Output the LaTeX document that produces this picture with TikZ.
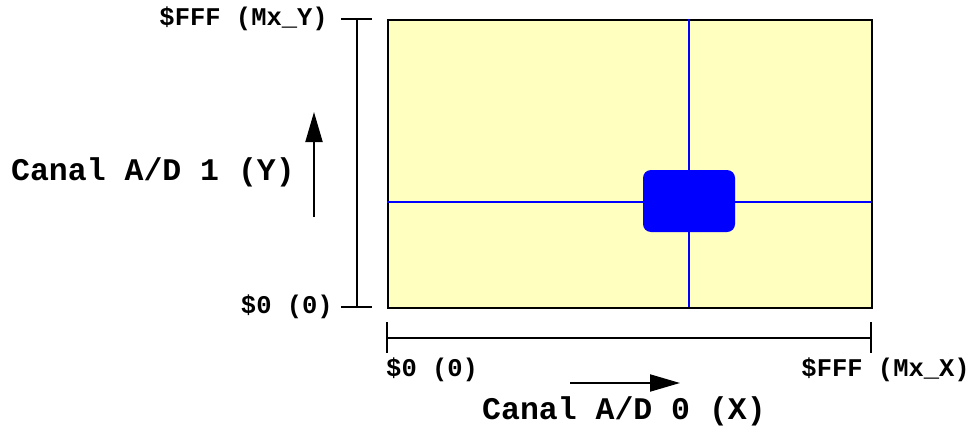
\documentclass[tikz,border=0pt]{standalone}
\usepackage{fontspec}
\setmonofont{Liberation Mono}
\usetikzlibrary{arrows.meta}
\definecolor{padyellow}{RGB}{255,255,192}
\definecolor{padblue}{RGB}{0,0,255}
\tikzset{
  small/.style={font=\ttfamily\bfseries\fontsize{25.5}{28}\selectfont, inner sep=0pt},
  big/.style={font=\ttfamily\bfseries\fontsize{31.5}{34}\selectfont, inner sep=0pt},
  scalebar/.style={line width=2pt, black},
  axisarrow/.style={line width=2pt, -{Triangle[length=30pt,width=17pt]}},
  crossline/.style={line width=1.5pt, padblue},
}
\begin{document}
\begin{tikzpicture}[x=1pt,y=-1pt]
\useasboundingbox (0,0) rectangle (971,428);
% pad area
\node[draw, line width=2pt, fill=padyellow, minimum width=484pt, minimum height=288pt, inner sep=0pt, anchor=north west] (pad) at (387,19) {};
\draw[crossline] (689,19) -- (689,307);
\draw[crossline] (387,202) -- (871,202);
\node[fill=padblue, rounded corners=8pt, minimum width=92pt, minimum height=62pt, inner sep=0pt] (cursor) at (689,201) {};
% vertical scale
\coordinate (vt) at (357,19);
\coordinate (vb) at (357,307);
\draw[scalebar] (vt) -- (vb);
\draw[scalebar] (341,19) -- (372,19);
\draw[scalebar] (341,307) -- (372,307);
% horizontal scale
\coordinate (hl) at (387,338);
\coordinate (hr) at (871,338);
\draw[scalebar] (hl) -- (hr);
\draw[scalebar] (387,322) -- (387,353);
\draw[scalebar] (871,322) -- (871,353);
% arrows
\coordinate (ya) at (314,217);
\coordinate (yb) at (314,112);
\draw[axisarrow] (ya) -- (yb);
\coordinate (xa) at (570,383);
\coordinate (xb) at (680,383);
\draw[axisarrow] (xa) -- (xb);
% labels
\node[small, anchor=east] (ymax) at (328,19) {\$FFF (Mx\_Y)};
\node[small, anchor=east] (ymin) at (333,307) {\$0 (0)};
\node[small, anchor=west] (xmin) at (386,370) {\$0 (0)};
\node[small, anchor=east] (xmax) at (970,370) {\$FFF (Mx\_X)};
\node[big, anchor=west] (ylab) at (11,172) {Canal A/D 1 (Y)};
\node[big, anchor=west] (xlab) at (482,411) {Canal A/D 0 (X)};
\end{tikzpicture}
\end{document}
